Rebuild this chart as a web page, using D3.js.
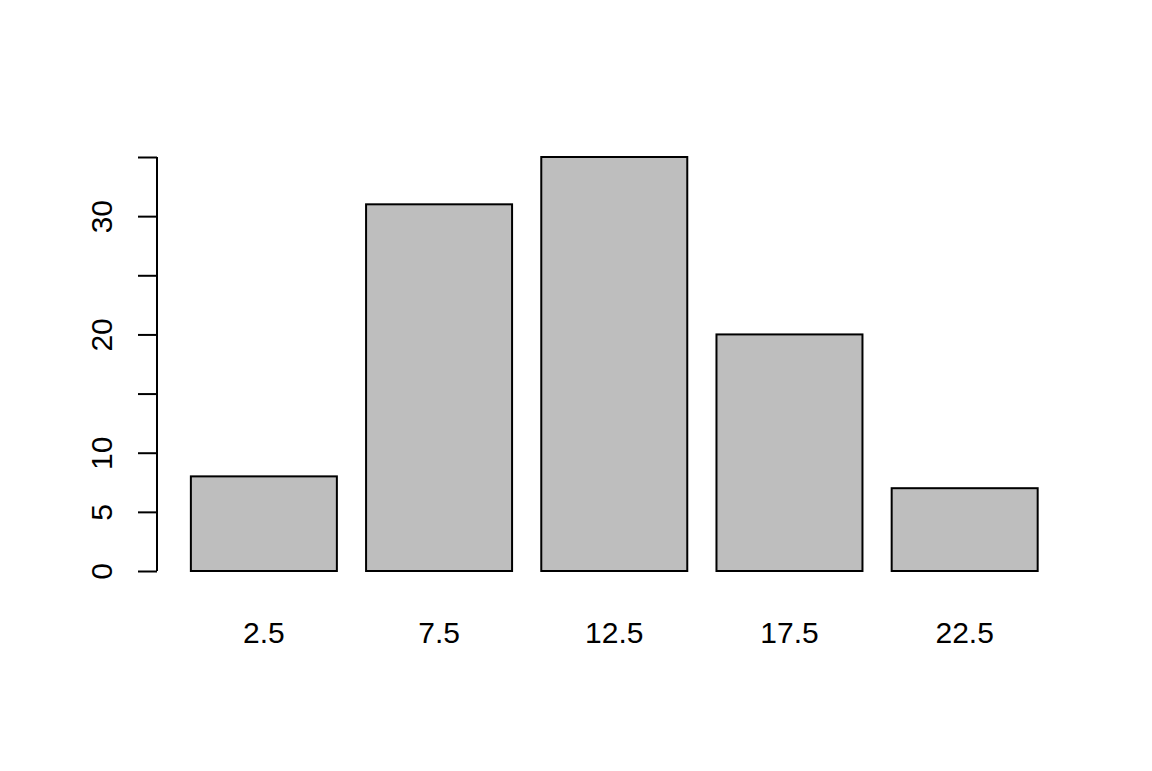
<!DOCTYPE html>
<html>
<head>
<meta charset="utf-8">
<script src="https://cdn.jsdelivr.net/npm/d3@7"></script>
<style>
  body { margin: 0; background: #fff; }
  svg { display: block; }
</style>
</head>
<body>
<div id="chart"></div>
<script>
const categories = ["2.5", "7.5", "12.5", "17.5", "22.5"];
const counts = [8, 31, 35, 20, 7];
const yTicks = [0, 5, 10, 15, 20, 25, 30, 35];
const yLabels = [0, 5, 10, 20, 30]; // R drops the labels that would overlap

const width = 1152, height = 771;
const FONT = "Liberation Sans, Arial, sans-serif";

const svg = d3.select("#chart").append("svg")
  .attr("width", width)
  .attr("height", height);

// barplot layout: width 1, space 0.2, xlim padded by 4%
const x = d3.scaleLinear().domain([-0.032, 6.232]).range([157, 157 + 6.264 * 146]);
const y = d3.scaleLinear().domain([0, 35]).range([571, 157]);

svg.selectAll(".bar")
  .data(counts)
  .join("rect")
  .attr("class", "bar")
  .attr("x", (_, i) => x(0.2 + 1.2 * i))
  .attr("width", x(1) - x(0))
  .attr("y", d => y(d))
  .attr("height", d => y(0) - y(d))
  .attr("fill", "#bebebe")
  .attr("stroke", "#000")
  .attr("stroke-width", 2);

// x labels under the bar centres
svg.selectAll(".xlab")
  .data(categories)
  .join("text")
  .attr("class", "xlab")
  .attr("x", (_, i) => x(0.7 + 1.2 * i))
  .attr("y", 643)
  .attr("text-anchor", "middle")
  .attr("font-family", FONT)
  .attr("font-size", "30px")
  .attr("fill", "#000")
  .text(d => d);

// y axis
const yAxis = d3.axisLeft(y)
  .tickValues(yTicks)
  .tickSize(19)
  .tickPadding(0)
  .tickFormat(d => yLabels.includes(d) ? d : "");

const gy = svg.append("g")
  .attr("transform", "translate(157,0)")
  .call(yAxis);

gy.select(".domain")
  .attr("d", `M0,${y(0)}V${y(35)}`)
  .attr("stroke-width", 2);
gy.selectAll(".tick line").attr("stroke-width", 2);
gy.selectAll(".tick text")
  .attr("font-family", FONT)
  .attr("font-size", "30px")
  .attr("fill", "#000")
  .attr("text-anchor", "middle")
  .attr("x", null)
  .attr("dy", null)
  .attr("transform", "translate(-45,0) rotate(-90)");
</script>
</body>
</html>
